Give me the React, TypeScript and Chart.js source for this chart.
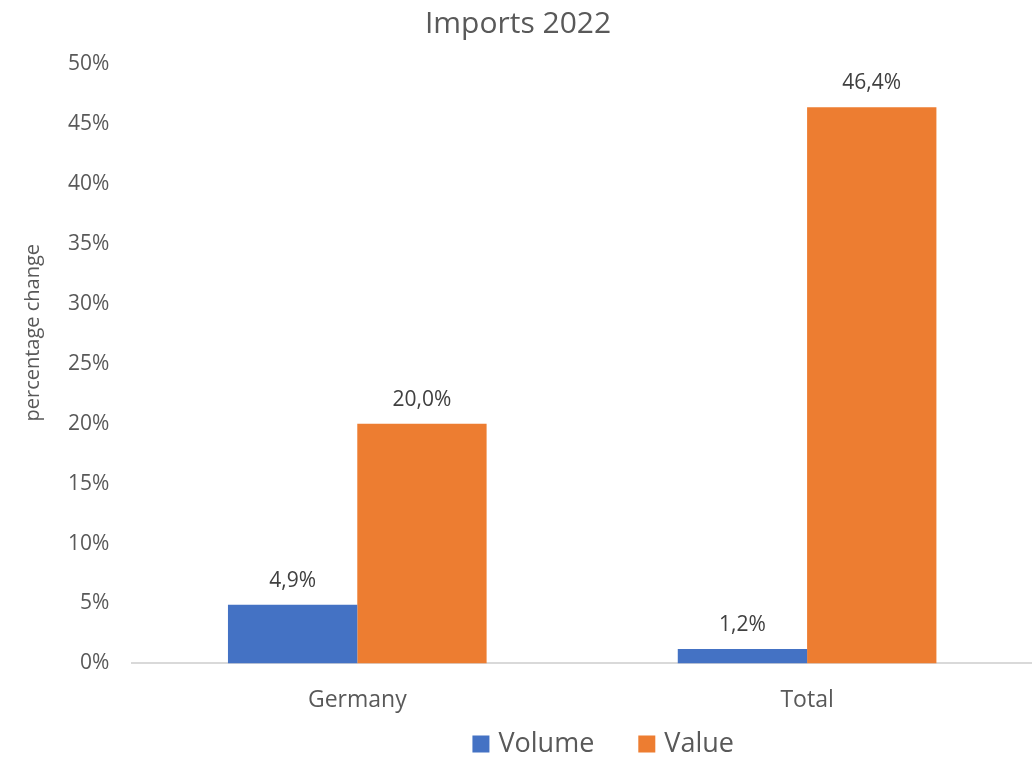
import React, { useEffect, useRef } from "react";
import { Chart, registerables } from "chart.js";

Chart.register(...registerables);

const categories = ["Germany", "Total"];
const volumeValues = [4.9, 1.2];
const valueValues = [20.0, 46.4];
const seriesNames = ["Volume", "Value"];
const seriesColors = ["#4472C4", "#ED7D31"];
const yTicks = [0, 5, 10, 15, 20, 25, 30, 35, 40, 45, 50];
const titleText = "Imports 2022";
const yAxisTitle = "percentage change";

const FONT = "'Open Sans', 'Noto Sans', sans-serif";
const TEXT = "#595959";

const dataLabelPlugin = {
  id: "dataLabels",
  afterDatasetsDraw(chart: any) {
    const ctx = chart.ctx;
    ctx.save();
    ctx.font = `21px ${FONT}`;
    ctx.fillStyle = "#404040";
    ctx.textAlign = "center";
    ctx.textBaseline = "middle";
    chart.data.datasets.forEach((ds: any, di: number) => {
      const meta = chart.getDatasetMeta(di);
      meta.data.forEach((bar: any, i: number) => {
        const v = ds.data[i];
        const txt = v.toFixed(1).replace(".", ",") + "%";
        ctx.fillText(txt, bar.x, bar.y - 24);
      });
    });
    ctx.restore();
  },
};

const yTitlePlugin = {
  id: "yTitle",
  afterDraw(chart: any) {
    const ctx = chart.ctx;
    const a = chart.chartArea;
    ctx.save();
    ctx.font = `20px ${FONT}`;
    ctx.fillStyle = TEXT;
    ctx.textAlign = "center";
    ctx.textBaseline = "middle";
    ctx.translate(33, (a.top + a.bottom) / 2 - 31);
    ctx.rotate(-Math.PI / 2);
    ctx.fillText(yAxisTitle, 0, 0);
    ctx.restore();
  },
};

const bottomLegendPlugin = {
  id: "bottomLegend",
  afterDraw(chart: any) {
    const ctx = chart.ctx;
    const box = 17;
    const gap = 9;
    const spacing = 44;
    ctx.save();
    ctx.font = `27px ${FONT}`;
    ctx.textBaseline = "middle";
    ctx.textAlign = "left";
    const items = chart.data.datasets.map((ds: any) => ({
      text: ds.label,
      color: ds.backgroundColor,
      w: box + gap + ctx.measureText(ds.label).width,
    }));
    const total = items.reduce((s: number, it: any) => s + it.w, 0) + spacing * (items.length - 1);
    const cx = (chart.chartArea.left + chart.chartArea.right) / 2 + 21;
    let x = cx - total / 2;
    const y = chart.height - 13;
    items.forEach((it: any) => {
      ctx.fillStyle = it.color;
      ctx.fillRect(x, y - box / 2, box, box);
      ctx.fillStyle = TEXT;
      ctx.fillText(it.text, x + box + gap, y);
      x += it.w + spacing;
    });
    ctx.restore();
  },
};

export default function App() {
  const ref = useRef<HTMLCanvasElement>(null);
  useEffect(() => {
    if (!ref.current) return;
    const chart = new Chart(ref.current, {
      type: "bar",
      data: {
        labels: categories,
        datasets: [
          { label: seriesNames[0], data: volumeValues, backgroundColor: seriesColors[0], borderWidth: 0 },
          { label: seriesNames[1], data: valueValues, backgroundColor: seriesColors[1], borderWidth: 0 },
        ],
      },
      options: {
        animation: false,
        responsive: false,
        maintainAspectRatio: false,
        layout: { padding: { left: 4, right: 0, top: 0, bottom: 20 } },
        datasets: { bar: { categoryPercentage: 0.575, barPercentage: 1 } },
        plugins: {
          title: {
            display: true,
            text: titleText,
            color: TEXT,
            font: { family: FONT, size: 30, weight: "normal" },
            padding: { top: 6, bottom: 22 },
          },
          legend: { display: false },
          tooltip: { enabled: false },
        },
        scales: {
          x: {
            grid: { display: false, drawTicks: false },
            border: { display: true, color: "#D9D9D9", width: 2 },
            ticks: { color: TEXT, font: { family: FONT, size: 23 }, padding: 23 },
          },
          y: {
            min: 0,
            max: 50,
            afterBuildTicks: (scale: any) => {
              scale.ticks = yTicks.map((v) => ({ value: v }));
            },
            afterFit: (scale: any) => {
              scale.width += 41;
            },
            grid: { display: false, drawTicks: false },
            border: { display: false },
            ticks: {
              color: TEXT,
              font: { family: FONT, size: 21 },
              padding: 23,
              callback: (v: any) => v + "%",
            },
          },
        },
      },
      plugins: [dataLabelPlugin, yTitlePlugin, bottomLegendPlugin],
    });
    return () => chart.destroy();
  }, []);
  return (
    <div style={{ position: "fixed", left: 0, top: 0, width: 1032, height: 757, background: "#fff" }}>
      <canvas ref={ref} width={1032} height={757} />
    </div>
  );
}
